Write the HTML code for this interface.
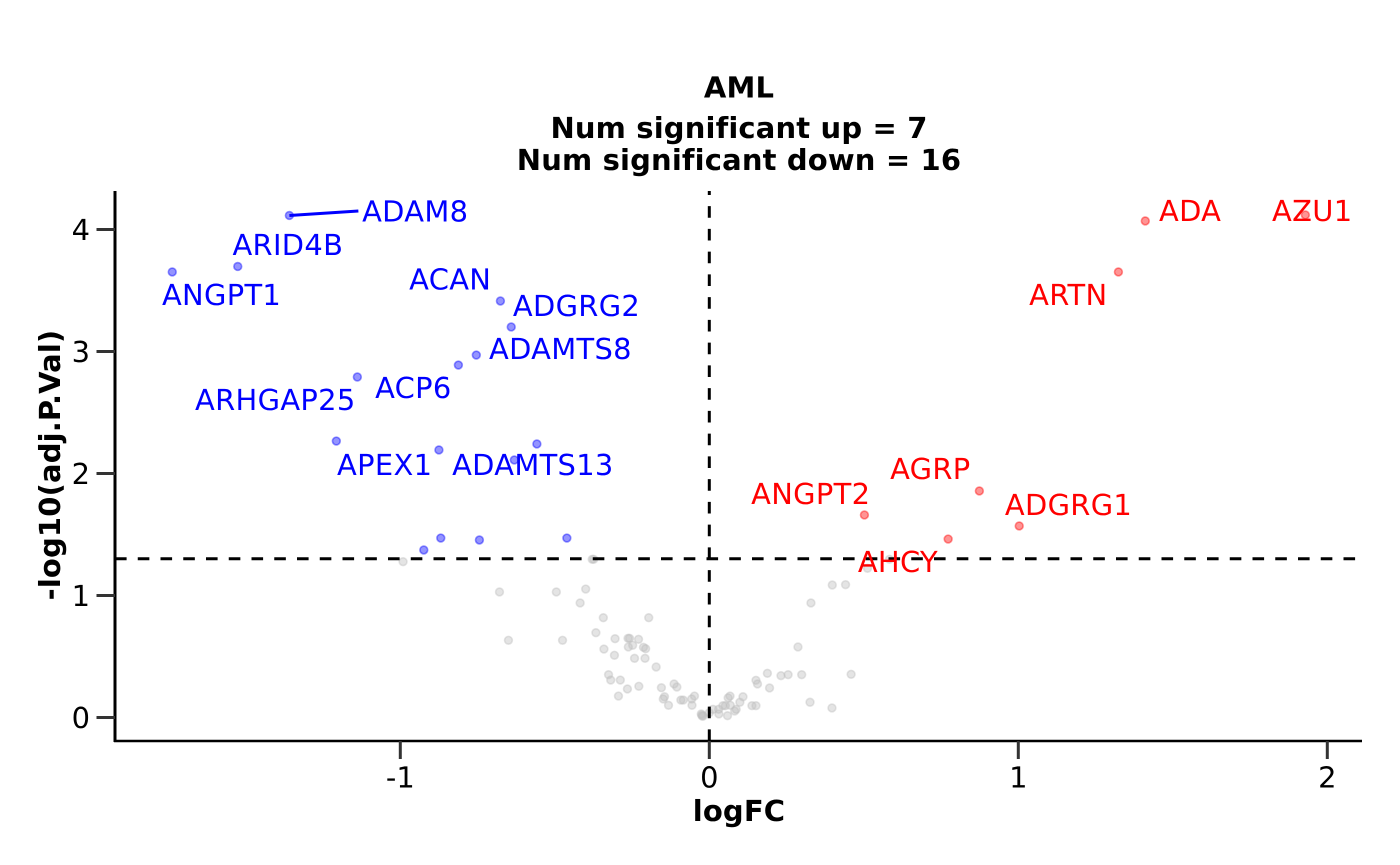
<!DOCTYPE html>
<html lang="en">
<head>
<meta charset="utf-8">
<title>AML volcano plot</title>
<style>
html,body{margin:0;padding:0;background:#fff;}
svg{display:block;font-family:"DejaVu Sans","Liberation Sans",sans-serif;text-rendering:geometricPrecision;}
.bold-title{letter-spacing:0.15px;}
.gene-text{letter-spacing:0.33px;}
</style>
</head>
<body>
<svg id="chart" width="1400" height="865" viewBox="0 0 1400 865" xmlns="http://www.w3.org/2000/svg">
  <rect x="0" y="0" width="1400" height="865" fill="#fff"/>
  <text class="bold-title" x="739" y="97.5" text-anchor="middle" font-size="29" font-weight="bold">AML</text>
  <text class="bold-title" x="739" y="138" text-anchor="middle" font-size="29" font-weight="bold">Num significant up = 7</text>
  <text class="bold-title" x="739" y="170" text-anchor="middle" font-size="29" font-weight="bold">Num significant down = 16</text>
  <text class="bold-title" x="739" y="821" text-anchor="middle" font-size="29" font-weight="bold">logFC</text>
  <text class="bold-title" transform="translate(60,465) rotate(-90)" text-anchor="middle" font-size="29" font-weight="bold">-log10(adj.P.Val)</text>
  <g id="points-notsig"></g>
  <g id="points-down"></g>
  <g id="points-up"></g>
  <g id="axes"></g>
  <g id="thresholds"></g>
  <g id="labels"></g>
</svg>
<script>
var xTicks = [-1, 0, 1, 2];
var yTicks = [0, 1, 2, 3, 4];
var pThreshold = 1.301;
var fcThreshold = 0;

var downGenes = ["ADAM8","ARID4B","ANGPT1","ACAN","ADGRG2","ADAMTS8","ACP6","ARHGAP25","APEX1","ADAMTS13","","","","","",""];
var downLogFC = [-1.359,-1.526,-1.738,-0.676,-0.641,-0.754,-0.812,-1.139,-1.207,-0.558,-0.875,-0.631,-0.461,-0.869,-0.744,-0.924];
var downLogP = [4.115,3.697,3.652,3.414,3.201,2.971,2.889,2.791,2.266,2.242,2.193,2.111,1.471,1.471,1.455,1.373];

var upGenes = ["ADA","AZU1","ARTN","AGRP","ADGRG1","ANGPT2","AHCY"];
var upLogFC = [1.411,1.929,1.324,0.874,1.003,0.502,0.773];
var upLogP = [4.070,4.119,3.652,1.857,1.570,1.660,1.463];

var nsLogFC = [-0.991,-0.679,-0.495,-0.400,-0.418,-0.343,-0.196,-0.367,-0.305,-0.263,-0.258,-0.229,-0.650,-0.475,-0.341,-0.262,-0.248,-0.213,-0.206,-0.307,-0.242,-0.208,-0.172,-0.326,-0.319,-0.288,-0.265,-0.228,-0.294,-0.155,-0.114,-0.105,-0.145,-0.149,-0.132,-0.092,-0.084,-0.057,-0.048,-0.056,-0.026,-0.023,-0.374,-0.379,-0.024,-0.020,0.000,0.012,0.030,0.031,0.044,0.052,0.068,0.059,0.082,0.087,0.099,0.109,0.061,0.067,0.138,0.151,0.151,0.156,0.195,0.188,0.232,0.255,0.299,0.459,0.326,0.397,0.287,0.329,0.398,0.441,0.512,0.583];
var nsLogP = [1.277,1.029,1.029,1.053,0.939,0.818,0.818,0.695,0.646,0.649,0.649,0.641,0.633,0.633,0.561,0.578,0.592,0.575,0.564,0.510,0.485,0.485,0.414,0.351,0.307,0.307,0.234,0.256,0.176,0.244,0.275,0.250,0.170,0.152,0.100,0.143,0.143,0.152,0.176,0.100,0.029,0.012,1.297,1.297,0.020,0.012,0.039,0.067,0.067,0.029,0.097,0.097,0.100,0.015,0.053,0.067,0.125,0.170,0.161,0.176,0.097,0.097,0.305,0.275,0.242,0.362,0.343,0.351,0.351,0.354,0.125,0.078,0.578,0.939,1.086,1.089,1.223,1.297];

/* Repel layout: label start and baseline relative to its point (not data). */
var labelLayout = {
  ADAM8:[72.7,6], ARID4B:[-5.3,-11.5], ANGPT1:[-10.3,33], ACAN:[-91.3,-11.5], ADGRG2:[1.7,-11],
  ADAMTS8:[12.7,4], ACP6:[-83.3,33], ARHGAP25:[-162.3,33], APEX1:[0.7,34], ADAMTS13:[-84.8,31],
  ADA:[13.7,0], AZU1:[-33.3,6], ARTN:[-89.3,33], AGRP:[-89.3,-12], ADGRG1:[-14.3,-11],
  ANGPT2:[-113.3,-11], AHCY:[-90.3,33]
};

var SVG_NS = "http://www.w3.org/2000/svg";
function xScale(v){ return 709.3 + v * 309; }
function yScale(v){ return 717.5 - v * 122; }
function make(tag, attrs, parent){
  var el = document.createElementNS(SVG_NS, tag);
  for (var k in attrs) el.setAttribute(k, attrs[k]);
  parent.appendChild(el);
  return el;
}

function drawPoints(groupId, xs, ys, color){
  var g = document.getElementById(groupId);
  for (var i = 0; i < xs.length; i++){
    var c = make("circle", {cx:xScale(xs[i]), cy:yScale(ys[i]), r:3.9, fill:color, "fill-opacity":0.42, stroke:color, "stroke-opacity":0.42, "stroke-width":1.6}, g);
    
    
  }
}
drawPoints("points-notsig", nsLogFC, nsLogP, "#bebebe");
drawPoints("points-down", downLogFC, downLogP, "#0000ff");
drawPoints("points-up", upLogFC, upLogP, "#ff0000");

var axes = document.getElementById("axes");
var yAxisLine = make("line", {x1:115, x2:115, y1:191, y2:742, stroke:"#000", "stroke-width":3}, axes);


var xAxisLine = make("line", {x1:114, x2:1362, y1:741, y2:741, stroke:"#000", "stroke-width":2.5}, axes);



xTicks.forEach(function(t){
  var px = xScale(t);
  var tick = make("line", {x1:px, x2:px, y1:741, y2:759, stroke:"#333", "stroke-width":3}, axes);
  
  
  var lab = make("text", {x:px, y:787.5, "text-anchor":"middle", "font-size":28.9, fill:"#000"}, axes);
  
  
  lab.textContent = String(t);
});
yTicks.forEach(function(t){
  var py = yScale(t);
  var tick = make("line", {x1:96.5, x2:115, y1:py, y2:py, stroke:"#333", "stroke-width":3}, axes);
  
  
  var lab = make("text", {x:90, y:py + 10.5, "text-anchor":"end", "font-size":28.9, fill:"#000"}, axes);
  
  
  lab.textContent = String(t);
});

var th = document.getElementById("thresholds");
var hLine = make("line", {x1:115, x2:1361, y1:yScale(pThreshold), y2:yScale(pThreshold), stroke:"#000", "stroke-width":3, "stroke-dasharray":"11.6 11.15"}, th);


var vLine = make("line", {x1:xScale(fcThreshold), x2:xScale(fcThreshold), y1:741, y2:191, stroke:"#000", "stroke-width":3, "stroke-dasharray":"11.6 11.15"}, th);



function drawLabels(genes, xs, ys, color){
  var g = document.getElementById("labels");
  for (var i = 0; i < genes.length; i++){
    if (!genes[i]) continue;
    var off = labelLayout[genes[i]];
    var px = xScale(xs[i]), py = yScale(ys[i]);
    if (genes[i] === "ADAM8"){
      var seg = make("line", {x1:px, y1:py, x2:px + 69, y2:py - 4.5, stroke:color, "stroke-width":3}, g);
      
      
    }
    var t = make("text", {"class":"gene-text", x:px + off[0], y:py + off[1], "font-size":28.9, fill:color}, g);
    
    
    t.textContent = genes[i];
  }
}
drawLabels(downGenes, downLogFC, downLogP, "#0000ff");
drawLabels(upGenes, upLogFC, upLogP, "#ff0000");
</script>
</body>
</html>
